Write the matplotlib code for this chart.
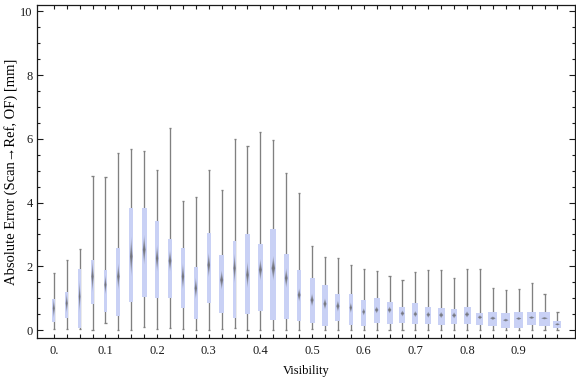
import matplotlib
matplotlib.use("Agg")
import matplotlib.pyplot as plt
from matplotlib.patches import Polygon

# ---- data ----
visibility = [0.000, 0.025, 0.050, 0.075, 0.100, 0.125, 0.150, 0.175, 0.200, 0.225,
              0.250, 0.275, 0.300, 0.325, 0.350, 0.375, 0.400, 0.425, 0.450, 0.475,
              0.500, 0.525, 0.550, 0.575, 0.600, 0.625, 0.650, 0.675, 0.700, 0.725,
              0.750, 0.775, 0.800, 0.825, 0.850, 0.875, 0.900, 0.925, 0.950, 0.975]
whisker_low = [0.02, 0.02, 0.02, 0.00, 0.21, 0.00, 0.00, 0.08, 0.02, 0.05,
               0.02, 0.00, 0.00, 0.02, 0.05, 0.00, 0.00, 0.00, 0.00, 0.00,
               0.03, 0.00, 0.00, 0.00, 0.00, 0.00, 0.00, 0.00, 0.00, 0.00,
               0.00, 0.00, 0.00, 0.00, 0.00, 0.00, 0.00, 0.00, 0.00, 0.00]
q1 = [0.26, 0.38, 0.06, 0.81, 0.58, 0.45, 0.89, 1.05, 1.02, 1.02,
      0.70, 0.35, 0.86, 0.54, 0.39, 0.51, 0.61, 0.32, 0.35, 0.29,
      0.21, 0.14, 0.29, 0.17, 0.14, 0.23, 0.20, 0.23, 0.20, 0.20,
      0.17, 0.20, 0.20, 0.17, 0.14, 0.07, 0.07, 0.17, 0.14, 0.07]
median = [0.68, 0.84, 1.05, 1.68, 1.42, 1.68, 2.31, 2.52, 2.25, 2.17,
          1.68, 1.31, 2.04, 1.57, 1.94, 1.73, 1.89, 1.94, 1.63, 1.10,
          0.94, 0.82, 0.75, 0.70, 0.57, 0.63, 0.63, 0.52, 0.50, 0.48,
          0.47, 0.46, 0.49, 0.40, 0.37, 0.31, 0.36, 0.39, 0.37, 0.18]
q3 = [0.97, 1.18, 1.92, 2.19, 1.88, 2.58, 3.84, 3.84, 3.42, 2.86,
      2.58, 1.98, 3.05, 2.36, 2.80, 3.02, 2.70, 3.18, 2.39, 1.88,
      1.63, 1.41, 1.13, 1.13, 0.93, 1.01, 0.88, 0.72, 0.85, 0.72,
      0.69, 0.66, 0.72, 0.53, 0.57, 0.53, 0.57, 0.57, 0.57, 0.28]
whisker_high = [1.78, 2.19, 2.54, 4.83, 4.80, 5.57, 5.68, 5.62, 5.02, 6.34,
                4.05, 4.17, 5.02, 4.38, 6.00, 5.78, 6.22, 5.96, 4.93, 4.30,
                2.63, 2.29, 2.25, 2.03, 1.91, 1.85, 1.69, 1.58, 1.81, 1.88,
                1.88, 1.63, 1.91, 1.91, 1.31, 1.25, 1.28, 1.47, 1.12, 0.56]
# median uncertainty (half span of the shaded median marker)
median_spread = [0.31, 0.31, 0.50, 0.50, 0.31, 0.42, 0.63, 0.47, 0.42, 0.34,
                 0.42, 0.34, 0.39, 0.31, 0.47, 0.42, 0.34, 0.39, 0.31, 0.21,
                 0.21, 0.18, 0.18, 0.17, 0.12, 0.11, 0.11, 0.10, 0.10, 0.10,
                 0.10, 0.10, 0.10, 0.07, 0.06, 0.05, 0.05, 0.05, 0.04, 0.04]
# relative box width (fraction of bin spacing), encodes sample weight
box_rel_width = [0.26, 0.26, 0.21, 0.29, 0.26, 0.31, 0.33, 0.36, 0.31, 0.36,
                 0.31, 0.31, 0.33, 0.39, 0.29, 0.33, 0.39, 0.46, 0.36, 0.36,
                 0.39, 0.39, 0.39, 0.31, 0.36, 0.46, 0.46, 0.46, 0.46, 0.46,
                 0.52, 0.52, 0.54, 0.54, 0.70, 0.70, 0.67, 0.70, 0.85, 0.62]
xtick_values = [0.0, 0.1, 0.2, 0.3, 0.4, 0.5, 0.6, 0.7, 0.8, 0.9]
xtick_labels = ["0.", "0.1", "0.2", "0.3", "0.4", "0.5", "0.6", "0.7", "0.8", "0.9"]
ytick_values = [0, 2, 4, 6, 8, 10]

SERIF = ["Liberation Serif", "DejaVu Serif"]
plt.rcParams["font.family"] = SERIF
plt.rcParams["font.size"] = 9

BOX = "#c9d1f5"
WHISK = "#808080"
AXC = "#1a1a1a"

fig = plt.figure(figsize=(5.76, 3.77), dpi=100)
ax = fig.add_axes([37 / 576, 1 - 338 / 377, 538 / 576, 333 / 377])

step = 0.025
cap_half = 0.0021
widths = [r * step for r in box_rel_width]

# whiskers + caps
ax.vlines(visibility, whisker_low, whisker_high, color=WHISK, lw=0.95, zorder=1)
for x, lo, hi in zip(visibility, whisker_low, whisker_high):
    ax.hlines([lo, hi], x - cap_half, x + cap_half, color=WHISK, lw=0.95, zorder=1)

# boxes
heights = [b - a for a, b in zip(q1, q3)]
ax.bar(visibility, heights, bottom=q1, width=widths, color=BOX, edgecolor="none", zorder=2)

# shaded median markers (layered diamonds -> soft gradient)
n_layers = 7
for x, m, s, w in zip(visibility, median, median_spread, widths):
    hw = 0.32 * w
    for k in range(n_layers):
        f = 1 - k / n_layers
        hh = s * f
        ww = hw * (0.6 + 0.4 * f)
        poly = Polygon([(x, m - hh), (x + ww, m), (x, m + hh), (x - ww, m)],
                       closed=True, facecolor="#5e5e5e", edgecolor="none",
                       alpha=0.2, zorder=3)
        ax.add_patch(poly)

ax.set_xlim(-0.0325, 1.009)
ax.set_ylim(-0.25, 10.2)

ax.set_xticks(visibility)
lab_map = {round(v, 3): l for v, l in zip(xtick_values, xtick_labels)}
ax.set_xticklabels([lab_map.get(round(v, 3), "") for v in visibility])
ax.set_yticks(ytick_values)
ax.set_yticklabels([str(v) for v in ytick_values])
ax.set_yticks([v / 2 for v in range(0, 21) if v % 4 != 0], minor=True)

ax.tick_params(which="both", direction="in", top=True, right=True,
               color=AXC, labelcolor=AXC, width=0.8)
ax.tick_params(axis="x", which="major", length=3.2, pad=5)
ax.tick_params(axis="y", which="major", length=4, pad=3)
ax.tick_params(axis="y", which="minor", length=2.2)
for sp in ax.spines.values():
    sp.set_color(AXC)
    sp.set_linewidth(0.9)

ax.set_xlabel("Visibility", labelpad=6)
ax.set_ylabel("Absolute Error (Scan\u2192Ref, OF) [mm]", labelpad=1.5, fontsize=10.5)

fig.savefig("out.png", dpi=100)
